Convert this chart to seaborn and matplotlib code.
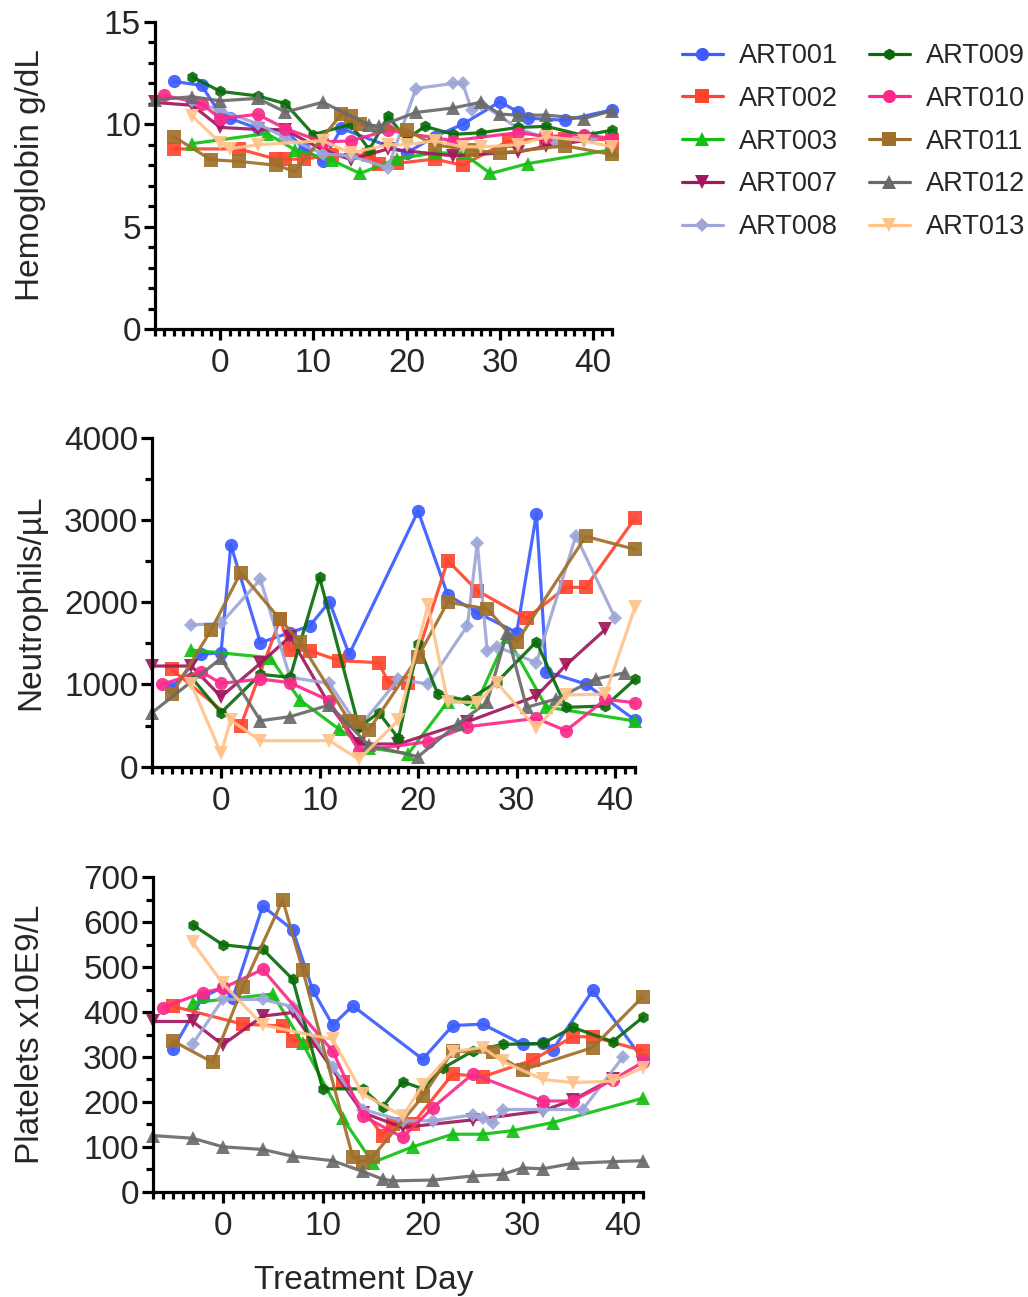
import numpy as np
import pandas as pd
import matplotlib
matplotlib.use("Agg")
import matplotlib.pyplot as plt
import seaborn as sns
from matplotlib.ticker import MultipleLocator
from matplotlib.lines import Line2D

patients = ["ART001", "ART002", "ART003", "ART007", "ART008",
            "ART009", "ART010", "ART011", "ART012", "ART013"]
colors = ["#3d5cff", "#ff4530", "#12c012", "#a0195c", "#9ea6d8",
          "#086c08", "#fa2a8a", "#a0702a", "#6a6a6a", "#ffc38a"]
markers = ["o", "s", "^", "v", "D", "h", "o", "s", "^", "v"]
msizes = [9.5, 10, 9.5, 9.5, 7, 8.5, 9.5, 10, 9.5, 9.5]

# ---------------- Hemoglobin (g/dL) ----------------
art001_hb_d = [-5, -2, 0, 1, 4, 7, 9, 11, 13, 20, 23, 26, 30, 32, 33, 37, 42]
art001_hb = [12.1, 11.9, 10.5, 10.3, 9.8, 9.7, 8.8, 8.2, 9.8, 8.6, 9.4, 10.0, 11.1, 10.6, 10.3, 10.2, 10.7]
art002_hb_d = [-5, 2, 6, 7, 9, 12, 16, 17, 19, 23, 26, 31, 35, 37, 42]
art002_hb = [8.8, 8.8, 8.3, 8.3, 8.3, 8.5, 8.5, 8.05, 8.1, 8.3, 8.0, 9.2, 9.3, 9.3, 9.25]
art003_hb_d = [-3, 5, 8, 12, 15, 19, 23, 26, 29, 33, 42]
art003_hb = [9.06, 9.55, 8.76, 8.24, 7.6, 8.32, 8.6, 8.6, 7.6, 8.08, 8.76]
art007_hb_d = [-7, -3, 0, 4, 7, 11, 14, 18, 25, 32, 35, 39]
art007_hb = [11.07, 10.93, 9.85, 9.75, 9.72, 8.75, 8.28, 8.8, 8.46, 8.65, 8.93, 9.2]
art008_hb_d = [-3, 0, 4, 7, 11, 14, 18, 21, 25, 26, 27, 28, 32, 36, 40]
art008_hb = [11.15, 10.68, 10.03, 9.35, 8.57, 8.45, 7.88, 11.75, 12.0, 12.02, 10.68, 11.01, 9.79, 9.15, 9.4]
art009_hb_d = [-3, 0, 4, 7, 10, 14, 16, 18, 20, 22, 25, 28, 32, 35, 39, 42]
art009_hb = [12.32, 11.61, 11.39, 11.01, 9.5, 10.0, 8.76, 10.39, 9.3, 9.9, 9.51, 9.59, 9.85, 9.9, 9.46, 9.71]
art010_hb_d = [-6, -2, 0, 4, 7, 11, 14, 18, 25, 32, 35, 39, 42]
art010_hb = [11.42, 11.01, 10.28, 10.49, 9.79, 9.14, 9.19, 9.71, 9.2, 9.6, 9.4, 9.5, 9.3]
art011_hb_d = [-5, -1, 2, 6, 8, 13, 14, 15, 20, 23, 27, 30, 37, 42]
art011_hb = [9.4, 8.27, 8.19, 8.0, 7.7, 10.49, 10.41, 10.0, 9.71, 9.0, 8.74, 8.6, 8.95, 8.53]
art012_hb_d = [-7, -3, 0, 4, 7, 11, 16, 17, 21, 25, 28, 30, 32, 35, 39, 42]
art012_hb = [11.2, 11.35, 11.15, 11.27, 10.6, 11.08, 9.97, 9.9, 10.58, 10.8, 11.08, 10.5, 10.45, 10.45, 10.28, 10.66]
art013_hb_d = [-3, 0, 1, 4, 11, 14, 18, 20, 23, 26, 28, 32, 35, 39, 42]
art013_hb = [10.4, 9.1, 8.8, 9.0, 9.2, 8.6, 9.0, 9.0, 9.2, 8.9, 8.9, 9.0, 9.4, 9.2, 8.9]

# ---------------- Neutrophils (/uL) ----------------
art001_ne_d = [-5, -2, 0, 1, 4, 7, 9, 11, 13, 20, 23, 26, 30, 32, 33, 37, 42]
art001_ne = [953, 1366, 1386, 2696, 1508, 1630, 1711, 2006, 1366, 3109, 2088, 1873, 1630, 3073, 1155, 1005, 567]
art002_ne_d = [-5, 2, 6, 7, 9, 12, 16, 17, 19, 23, 26, 31, 35, 37, 42]
art002_ne = [1184, 495, 1796, 1419, 1411, 1289, 1265, 1021, 1021, 2505, 2140, 1804, 2181, 2181, 3020]
art003_ne_d = [-3, 5, 8, 12, 15, 19, 23, 26, 29, 33, 42]
art003_ne = [1419, 1325, 811, 454, 231, 158, 790, 790, 1581, 726, 555]
art007_ne_d = [-7, -3, 0, 4, 7, 11, 14, 18, 25, 32, 35, 39]
art007_ne = [1224, 1224, 851, 1257, 1581, 750, 276, 276, 547, 859, 1236, 1670]
art008_ne_d = [-3, 0, 4, 7, 11, 14, 18, 21, 25, 26, 27, 28, 32, 36, 40]
art008_ne = [1723, 1743, 2278, 1086, 1013, 478, 1062, 1005, 1714, 2723, 1410, 1459, 1264, 2805, 1804]
art009_ne_d = [-3, 0, 4, 7, 10, 14, 16, 18, 20, 22, 25, 28, 32, 35, 39, 42]
art009_ne = [1086, 657, 1123, 1086, 2302, 478, 657, 345, 1488, 880, 805, 1030, 1520, 722, 738, 1062]
art010_ne_d = [-6, -2, 0, 4, 7, 11, 14, 21, 25, 32, 35, 39, 42]
art010_ne = [1001, 1155, 1013, 1066, 1021, 803, 190, 304, 486, 588, 438, 819, 778]
art011_ne_d = [-5, -1, 2, 6, 8, 13, 14, 15, 20, 23, 27, 30, 37, 42]
art011_ne = [880, 1662, 2359, 1790, 1520, 560, 540, 446, 1338, 2000, 1920, 1515, 2800, 2643]
art012_ne_d = [-7, 0, 4, 7, 11, 15, 20, 24, 27, 29, 31, 34, 38, 41]
art012_ne = [657, 1317, 559, 608, 750, 260, 122, 519, 783, 1629, 722, 823, 1066, 1143]
art013_ne_d = [-3, 0, 1, 4, 11, 14, 18, 21, 23, 26, 28, 32, 35, 39, 42]
art013_ne = [1000, 162, 567, 316, 316, 89, 567, 1966, 790, 780, 1020, 466, 872, 884, 1938]

# ---------------- Platelets (x10E9/L) ----------------
art001_pl_d = [-5, -2, 0, 1, 4, 7, 9, 11, 13, 20, 23, 26, 30, 32, 33, 37, 42]
art001_pl = [317, 433, 455, 431, 636, 583, 449, 371, 414, 295, 370, 373, 328, 330, 316, 448, 295]
art002_pl_d = [-5, 2, 6, 7, 9, 12, 16, 17, 19, 23, 26, 31, 35, 37, 42]
art002_pl = [413, 373, 369, 336, 336, 244, 125, 151, 151, 262, 256, 293, 345, 345, 314]
art003_pl_d = [-3, 5, 8, 12, 15, 19, 23, 26, 29, 33, 42]
art003_pl = [421, 440, 330, 163, 65, 100, 128, 128, 136, 154, 208]
art007_pl_d = [-7, -3, 0, 4, 7, 14, 18, 25, 32, 35, 39]
art007_pl = [379, 379, 327, 391, 399, 176, 143, 160, 180, 204, 252]
art008_pl_d = [-3, 0, 4, 7, 11, 14, 18, 21, 25, 26, 27, 28, 32, 36, 40]
art008_pl = [329, 428, 428, 412, 278, 183, 158, 158, 171, 163, 154, 183, 183, 183, 299]
art009_pl_d = [-3, 0, 4, 7, 10, 14, 16, 18, 20, 22, 25, 28, 32, 35, 39, 42]
art009_pl = [594, 550, 540, 473, 229, 229, 189, 245, 229, 275, 313, 328, 330, 366, 334, 388]
art010_pl_d = [-6, -2, 0, 4, 11, 14, 18, 21, 25, 32, 35, 39, 42]
art010_pl = [410, 443, 453, 495, 313, 169, 121, 187, 262, 202, 202, 249, 288]
art011_pl_d = [-5, -1, 2, 6, 8, 13, 14, 15, 20, 23, 27, 30, 37, 42]
art011_pl = [336, 288, 455, 650, 494, 78, 67, 78, 212, 313, 310, 271, 321, 434]
art012_pl_d = [-7, -3, 0, 4, 7, 11, 14, 16, 17, 21, 25, 28, 30, 32, 35, 39, 42]
art012_pl = [125, 119, 100, 94, 79, 69, 45, 28, 24, 26, 35, 39, 53, 51, 63, 67, 69]
art013_pl_d = [-3, 0, 4, 11, 14, 18, 20, 23, 26, 28, 32, 35, 39, 42]
art013_pl = [555, 464, 371, 339, 218, 168, 238, 312, 321, 290, 250, 243, 246, 276]

hb = [(art001_hb_d, art001_hb), (art002_hb_d, art002_hb), (art003_hb_d, art003_hb),
      (art007_hb_d, art007_hb), (art008_hb_d, art008_hb), (art009_hb_d, art009_hb),
      (art010_hb_d, art010_hb), (art011_hb_d, art011_hb), (art012_hb_d, art012_hb),
      (art013_hb_d, art013_hb)]
ne = [(art001_ne_d, art001_ne), (art002_ne_d, art002_ne), (art003_ne_d, art003_ne),
      (art007_ne_d, art007_ne), (art008_ne_d, art008_ne), (art009_ne_d, art009_ne),
      (art010_ne_d, art010_ne), (art011_ne_d, art011_ne), (art012_ne_d, art012_ne),
      (art013_ne_d, art013_ne)]
pl = [(art001_pl_d, art001_pl), (art002_pl_d, art002_pl), (art003_pl_d, art003_pl),
      (art007_pl_d, art007_pl), (art008_pl_d, art008_pl), (art009_pl_d, art009_pl),
      (art010_pl_d, art010_pl), (art011_pl_d, art011_pl), (art012_pl_d, art012_pl),
      (art013_pl_d, art013_pl)]

sns.set_theme(style="ticks")
plt.rcParams['font.family'] = ['Liberation Sans', 'DejaVu Sans']

W, H = 1028, 1297
fig = plt.figure(figsize=(W / 100, H / 100), dpi=100)


def px_axes(left, right, top, bottom):
    return fig.add_axes([left / W, 1 - bottom / H, (right - left) / W, (bottom - top) / H])


ax1 = px_axes(155, 611.6, 22, 329)
ax2 = px_axes(152, 635, 437.7, 766.7)
ax3 = px_axes(152.7, 642.7, 877.3, 1191.7)

LW = 2.3


def draw(ax, series):
    for pid, (d, v), c, m, ms in zip(patients, series, colors, markers, msizes):
        df = pd.DataFrame({"day": d, "value": v})
        sns.lineplot(data=df, x="day", y="value", ax=ax, color=c, marker=m,
                     markersize=ms, markeredgewidth=0, linewidth=LW,
                     estimator=None, sort=False, legend=False, clip_on=False,
                     alpha=0.92)


draw(ax1, hb)
draw(ax2, ne)
draw(ax3, pl)

settings = [
    (ax1, 15, 5, 1, "Hemoglobin g/dL"),
    (ax2, 4000, 1000, 500, "Neutrophils/µL"),
    (ax3, 700, 100, 50, "Platelets x10E9/L"),
]
for ax, ymax, maj, mnr, lab in settings:
    ax.set_xlim(-7, 42)
    ax.set_ylim(0, ymax)
    ax.xaxis.set_major_locator(MultipleLocator(10))
    ax.xaxis.set_minor_locator(MultipleLocator(1))
    ax.yaxis.set_major_locator(MultipleLocator(maj))
    ax.yaxis.set_minor_locator(MultipleLocator(mnr))
    for s in ["top", "right"]:
        ax.spines[s].set_visible(False)
    for s in ["left", "bottom"]:
        ax.spines[s].set_linewidth(LW)
        ax.spines[s].set_color("black")
    ax.tick_params(which="major", length=8, width=LW, labelsize=24, direction="out", color="black")
    ax.tick_params(which="minor", length=5, width=LW, direction="out", color="black")
    ax.tick_params(axis="y", which="major", pad=2)
    ax.tick_params(axis="x", which="major", pad=6)
    ax.set_xlabel("")
    ax.set_ylabel(lab, fontsize=24)
    ax.patch.set_alpha(0)

# place y labels at same absolute x
for ax in (ax1, ax2, ax3):
    bb = ax.get_position()
    ax.yaxis.set_label_coords((46 / W - bb.x0) / bb.width, 0.5)

fig.text(364 / W, 1 - 1280 / H, "Treatment Day", fontsize=24, ha="center", va="center")

handles = [Line2D([0], [0], color=c, marker=m, markersize=ms, markeredgewidth=0,
                  linewidth=LW, label=p)
           for p, c, m, ms in zip(patients, colors, markers, msizes)]
fig.legend(handles=handles, loc="upper left", bbox_to_anchor=(682 / W, 1 - 43 / H),
           ncol=2, frameon=False, fontsize=19.5, handlelength=1.5,
           handletextpad=0.6, columnspacing=1.15, labelspacing=0.62,
           borderpad=0, borderaxespad=0)

fig.savefig("out.png", dpi=100)
